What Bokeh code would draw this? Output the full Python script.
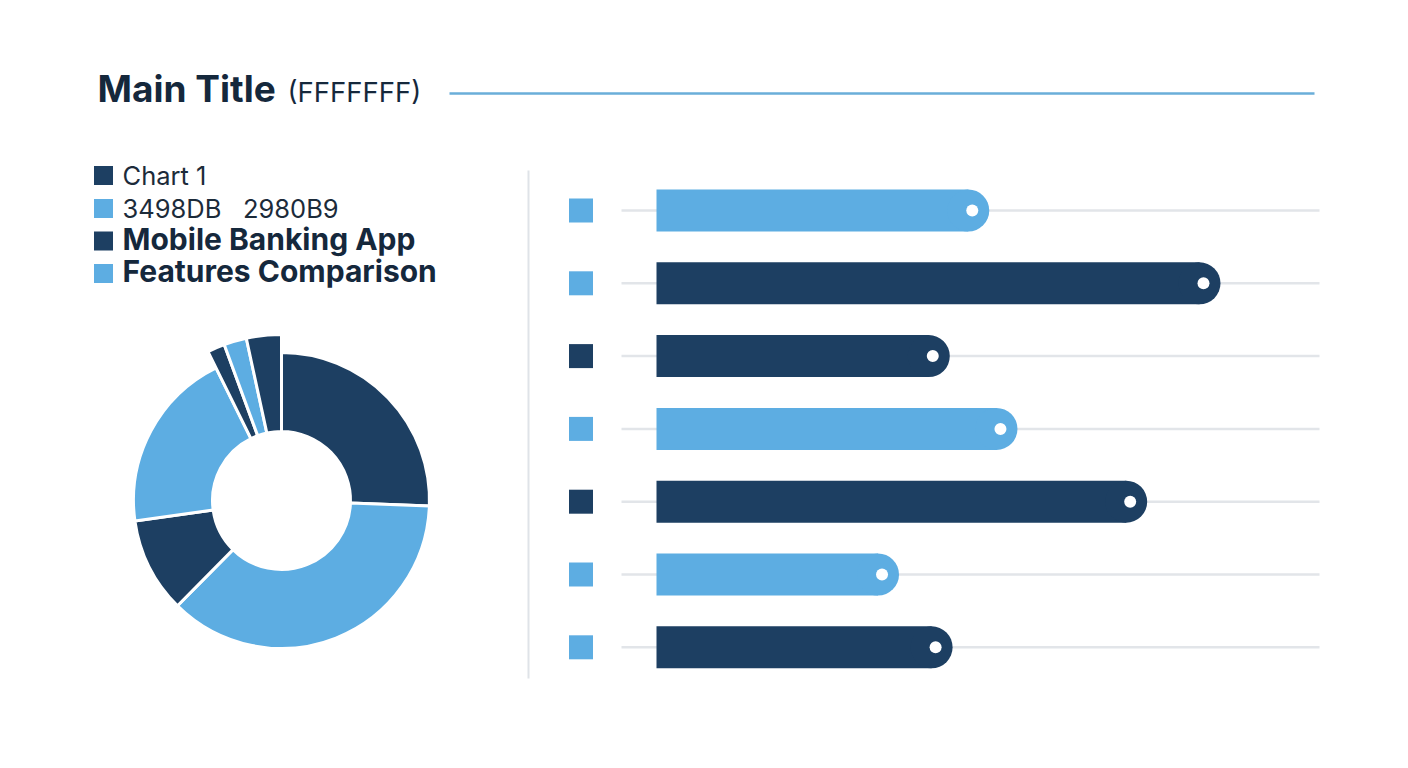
import numpy as np
from bokeh.plotting import figure
from bokeh.models import Range1d
from bokeh.core.properties import value
from bokeh.embed import file_html
from bokeh.resources import INLINE

# ---------------- data ----------------
DARK = "#1d3f62"
LIGHT = "#5dade2"
TEXT = "#15283c"

title_main = "Main Title"
title_sub = "(FFFFFFF)"

legend_labels = ["Chart 1", "3498DB\u00a0\u00a0\u00a02980B9", "Mobile Banking App", "Features Comparison"]
legend_colors = [DARK, LIGHT, DARK, LIGHT]
legend_bold = [False, False, True, True]

donut_values = [25.6, 36.8, 10.4, 19.9, 1.7, 2.2, 3.4]
donut_colors = [DARK, LIGHT, DARK, LIGHT, DARK, LIGHT, DARK]
donut_long = [False, False, False, False, True, True, True]

bar_values = [59, 100, 52, 64, 87, 43, 52.5]
bar_colors = [LIGHT, DARK, DARK, LIGHT, DARK, LIGHT, DARK]
marker_colors = [LIGHT, LIGHT, DARK, LIGHT, DARK, LIGHT, LIGHT]

# ---------------- layout ----------------
W, H = 1392, 752
def Y(py):
    return H - py

def TY(baseline, size):
    # empirical baseline correction for svg text
    return Y(baseline - 0.41 * size)

p = figure(width=W, height=H, x_range=Range1d(0, W), y_range=Range1d(0, H),
           output_backend="svg", toolbar_location=None, min_border=0)
p.axis.visible = False
p.grid.visible = False
p.outline_line_color = None
p.background_fill_color = "white"

FONT = value("Inter")

# title
p.text(x=[97], y=[TY(103, 37)], text=[title_main], text_font=FONT, text_font_size="37px",
       text_font_style="bold", text_color=TEXT, text_baseline="alphabetic")
p.text(x=[287], y=[TY(103, 27.5)], text=[title_sub], text_font=FONT, text_font_size="27.5px",
       text_color=TEXT, text_baseline="alphabetic")
p.line(x=[449, 1314], y=[Y(93), Y(93)], line_color="#6aaed9", line_width=2.5)

# legend
leg_y = [175, 208, 240.5, 273]
for i, (lab, col, b) in enumerate(zip(legend_labels, legend_colors, legend_bold)):
    size = 30 if b else 25.5
    p.scatter(x=[103], y=[Y(leg_y[i])], marker="square", size=19, fill_color=col, line_color=None)
    p.text(x=[122], y=[TY(leg_y[i] + 10, size)], text=[lab], text_font=FONT,
           text_font_size=f"{size}px", text_font_style="bold" if b else "normal",
           text_color=TEXT if b else "#1c2b3a", text_baseline="alphabetic")

# donut
cx, cy = 281, Y(500)
fr = np.array(donut_values) / sum(donut_values)
cum = np.concatenate([[0], np.cumsum(fr)])
starts = np.pi / 2 - cum[:-1] * 2 * np.pi
ends = np.pi / 2 - cum[1:] * 2 * np.pi
outer = [166 if l else 148 for l in donut_long]
p.annular_wedge(x=cx, y=cy, inner_radius=69, outer_radius=outer,
                start_angle=list(starts), end_angle=list(ends), direction="clock",
                fill_color=donut_colors, line_color="white", line_width=3)

# separator
p.line(x=[528, 528], y=[Y(170), Y(678)], line_color="#dfe3e8", line_width=2)

# bar chart (value scale)
x0_px, px_per_unit = 656, 5.64
p.extra_x_ranges = {"bar": Range1d((0 - x0_px) / px_per_unit, (W - x0_px) / px_per_unit)}
rows_y = [Y(210 + i * 72.8) for i in range(len(bar_values))]
r = 21 / px_per_unit
gx0 = (621 - x0_px) / px_per_unit
gx1 = (1319 - x0_px) / px_per_unit
for i in range(len(bar_values)):
    p.line(x=[gx0, gx1], y=[rows_y[i]] * 2, line_color="#e2e5e9", line_width=2.5, x_range_name="bar")
vals = np.array(bar_values, dtype=float)
p.hbar(y=rows_y, left=0, right=list(vals - r), height=42, fill_color=bar_colors,
       line_color=None, x_range_name="bar")
p.scatter(x=list(vals - r), y=rows_y, size=42, marker="circle", fill_color=bar_colors,
          line_color=None, x_range_name="bar")
p.scatter(x=list(vals - 17 / px_per_unit), y=rows_y, size=12, marker="circle",
          fill_color="white", line_color=None, x_range_name="bar")
p.scatter(x=[(580.5 - x0_px) / px_per_unit] * len(rows_y), y=rows_y, size=24, marker="square",
          fill_color=marker_colors, line_color=None, x_range_name="bar")

open("out.html", "w").write(file_html(p, INLINE))
